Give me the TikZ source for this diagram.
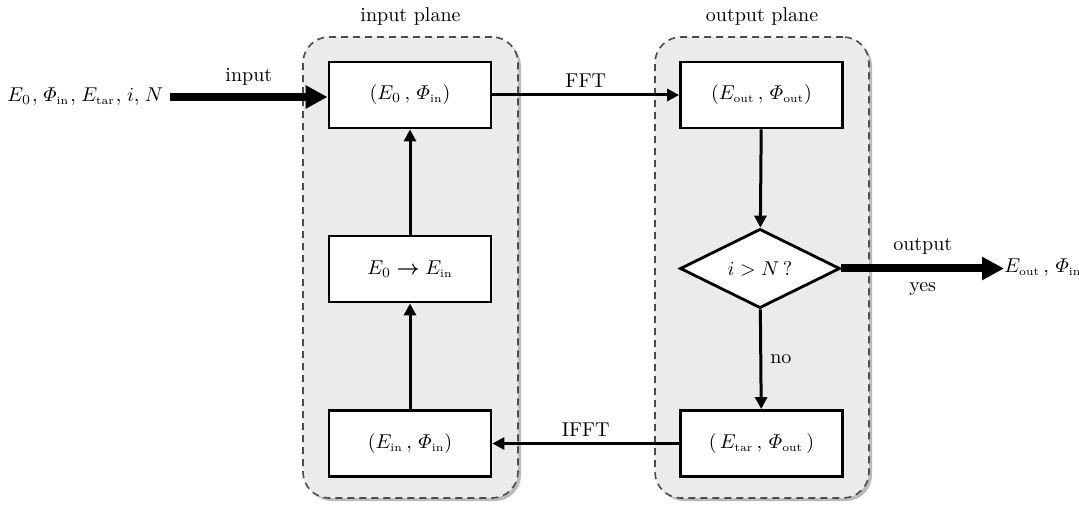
\documentclass[tikz,border=0pt]{standalone}
\usepackage{amsmath}
\usetikzlibrary{arrows.meta,shapes.geometric,shadows}
\newcommand{\rmsub}[1]{\mbox{\fontsize{5.6}{6}\selectfont #1}}
\begin{document}
\begin{tikzpicture}[x=0.5pt,y=-0.5pt,
  every node/.style={font=\fontsize{10}{12}\selectfont},
  plane/.style={draw=black!70, line width=0.8pt, dash pattern=on 3.5pt off 2.5pt,
    fill=black!8, rounded corners=13pt, inner sep=0pt,
    drop shadow={shadow xshift=1.5pt, shadow yshift=-1.5pt, fill=black!45, opacity=0.6}},
  stepbox/.style={draw, line width=1.4pt, fill=white, inner sep=0pt,
    minimum width=81pt, minimum height=33pt},
  test/.style={draw, diamond, line width=1.4pt, fill=white, inner sep=0pt,
    minimum width=80pt, minimum height=33.5pt},
  flow/.style={line width=1.5pt, -{Triangle[length=6pt,width=6pt]}},
  bigflow/.style={line width=4pt, -{Triangle[length=11pt,width=11pt]}},
  lbl/.style={inner sep=1pt}]
\useasboundingbox (0,0) rectangle (1079,507);

% the two planes
\node[plane, minimum width=107.5pt, minimum height=230.5pt] (inplane) at (410.5,267.5) {};
\node[plane, minimum width=107pt, minimum height=230.5pt] (outplane) at (762,267.5) {};
\node (inlabel) at (410.5,17) {input plane};
\node (outlabel) at (762,17) {output plane};

% steps in the input plane
\node[stepbox] (e0) at (410,95) {$(E_0\,,\,\varPhi_{\rmsub{in}})$};
\node[stepbox] (swap) at (410,269) {$E_0 \boldsymbol{\rightarrow} E_{\rmsub{in}}$};
\node[stepbox] (ein) at (410,443.5) {$(E_{\rmsub{in}}\,,\,\varPhi_{\rmsub{in}})$};

% steps in the output plane
\node[stepbox] (eout) at (761.5,95) {$(E_{\rmsub{out}}\,,\,\varPhi_{\rmsub{out}})$};
\node[test] (check) at (760,268.5) {$i > N\,?$};
\node[stepbox] (etar) at (761.5,443.5) {$(\,E_{\rmsub{tar}}\,,\,\varPhi_{\rmsub{out}}\,)$};

% outer inputs and outputs
\node[anchor=west, inner sep=0pt] (given) at (7,97) {$E_0\mkern1mu,\mkern2mu\varPhi_{\rmsub{in}}\mkern1mu,\mkern2mu E_{\rmsub{tar}}\mkern1mu,\mkern2mu i,\mkern2mu N$};
\coordinate (gstart) at (170,97);
\node[anchor=west, inner sep=0pt] (result) at (1004,268) {$E_{\rmsub{out}}\,,\,\varPhi_{\rmsub{in}}$};

% connectors
\draw[bigflow] (gstart) -- (e0.west |- gstart)
  node[lbl, midway, above=3pt] {input};
\draw[flow] (e0) -- (eout) node[lbl, midway, above=2pt] {FFT};
\draw[flow] (eout) -- (check);
\draw[flow] (check) -- (etar) node[lbl, midway, right=3pt] {no};
\draw[flow] (etar) -- (ein) node[lbl, midway, above=2pt] {IFFT};
\draw[flow] (ein) -- (swap);
\draw[flow] (swap) -- (e0);
\draw[bigflow] (check.east) -- (result.west |- check.east)
  node[lbl, midway, above=4pt] {output}
  node[lbl, midway, below=4pt] {yes};
\end{tikzpicture}
\end{document}
